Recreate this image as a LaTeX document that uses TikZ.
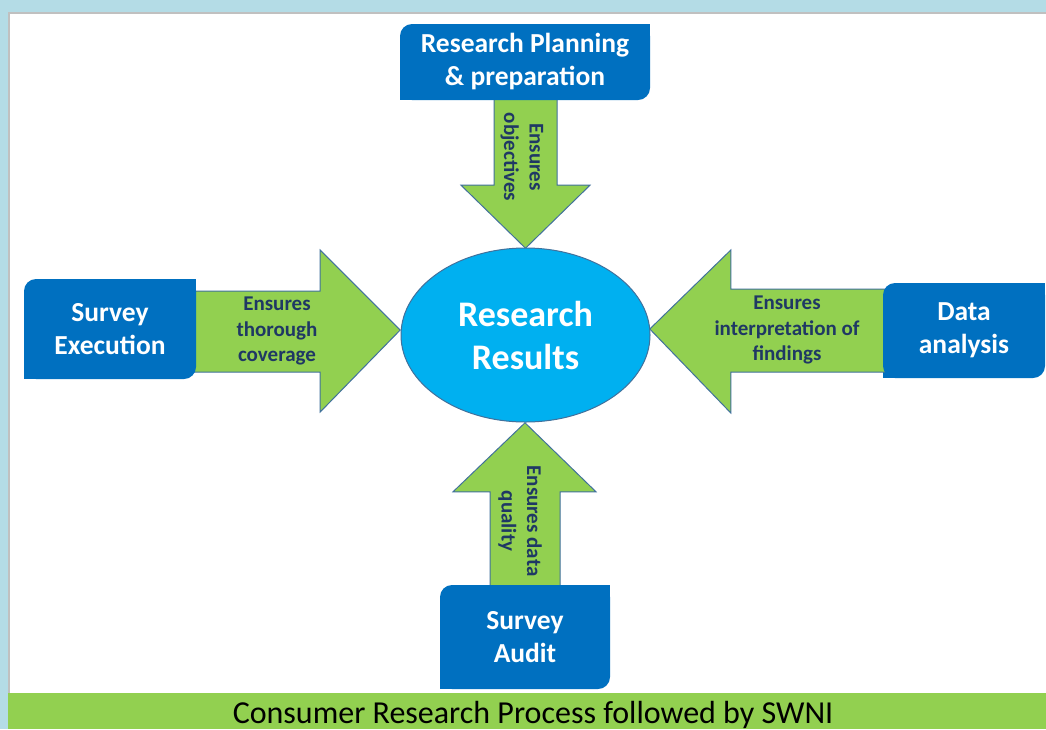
\documentclass[tikz,border=0pt]{standalone}
\usepackage{fontspec}
\setmainfont{Carlito}
\usetikzlibrary{calc,shapes.geometric}
\definecolor{bgblue}{HTML}{B4DCE6}
\definecolor{panelgrey}{HTML}{C0C0C0}
\definecolor{barGreen}{HTML}{92D050}
\definecolor{boxBlue}{HTML}{0070C0}
\definecolor{ellBlue}{HTML}{00B0F0}
\definecolor{edgeBlue}{HTML}{41719C}
\definecolor{navy}{HTML}{1F3864}
\pgfdeclarelayer{back}
\pgfdeclarelayer{mid}
\pgfsetlayers{back,mid,main}
\begin{document}
\begin{tikzpicture}[x=1pt,y=-1pt,
  box/.style={fill=boxBlue, rounded corners=12pt, text=white, align=center, inner sep=0pt,
    font=\bfseries\fontsize{27.5}{33}\selectfont},
  ell/.style={ellipse, fill=ellBlue, draw=edgeBlue, line width=1pt, inner sep=0pt, text=white,
    align=center, font=\bfseries\fontsize{36}{43}\selectfont},
  arr/.style={fill=barGreen, draw=edgeBlue, line width=1pt, line join=miter},
  lab/.style={text=navy, align=center, inner sep=0pt, font=\bfseries\fontsize{21}{25.5}\selectfont},
  corner/.style={fill=boxBlue}
]
\useasboundingbox (0,0) rectangle (1046,729);
\begin{pgfonlayer}{back}
  \fill[bgblue] (0,0) rectangle (1046,729);
  \fill[white] (8,12) rectangle (1046,693);
  \draw[panelgrey, line width=2pt] (9,700) -- (9,13) -- (1046,13);
  \fill[barGreen] (8,693) rectangle (1046,729);
\end{pgfonlayer}

% central ellipse
\node[ell, minimum width=249pt, minimum height=174pt] (res) at (525.5,335) {Research\\Results};

% boxes
\node[box, minimum width=250pt, minimum height=76pt] (plan) at (525,62) {Research Planning\\\& preparation};
\node[box, minimum width=172pt, minimum height=100pt] (exec) at (110,329) {Survey\\Execution};
\node[box, minimum width=162pt, minimum height=95pt] (data) at (964,330.5) {Data\\analysis};
\node[box, minimum width=170pt, minimum height=104pt] (audit) at (525,637) {Survey\\Audit};

% arrow labels
\node[lab, rotate=-90] (tobj) at (522,157) {Ensures\\objectives};
\node[lab] (tcov) at (277,331) {Ensures\\thorough\\coverage};
\node[lab] (tint) at (787,330) {Ensures\\interpretation of\\findings};
\node[lab, rotate=-90] (tqual) at (520,521) {Ensures data\\quality};

% caption
\node[anchor=base, inner sep=0pt, font=\fontsize{32}{38}\selectfont] (cap) at (533,723) {Consumer Research Process followed by SWNI};

\begin{pgfonlayer}{mid}
  % square corners of the boxes
  \foreach \b in {plan,exec,data,audit}{
    \fill[corner] (\b.north east) rectangle ++(-14,14);
    \fill[corner] (\b.south west) rectangle ++(14,-14);
  }
  % block arrows
  \draw[arr, shift={(plan.south)}] (-31,-3) -- (32,-3) -- (32,85) -- (65,85) -- (0.5,148) -- (-64,85) -- (-31,85) -- cycle;
  \draw[arr, shift={(exec.east)}] (-3,-38) -- (124,-38) -- (124,-79) -- (204,1) -- (124,83) -- (124,43) -- (-3,43) -- cycle;
  \draw[arr, shift={(data.west)}] (3,-41.5) -- (-152,-41.5) -- (-152,-80.5) -- (-233,-1.5) -- (-152,82.5) -- (-152,41.5) -- (3,41.5) -- cycle;
  \draw[arr, shift={(audit.north)}] (-35,3) -- (-35,-93) -- (-72,-93) -- (0,-162) -- (71,-93) -- (35,-93) -- (35,3) -- cycle;
\end{pgfonlayer}
\end{tikzpicture}
\end{document}
